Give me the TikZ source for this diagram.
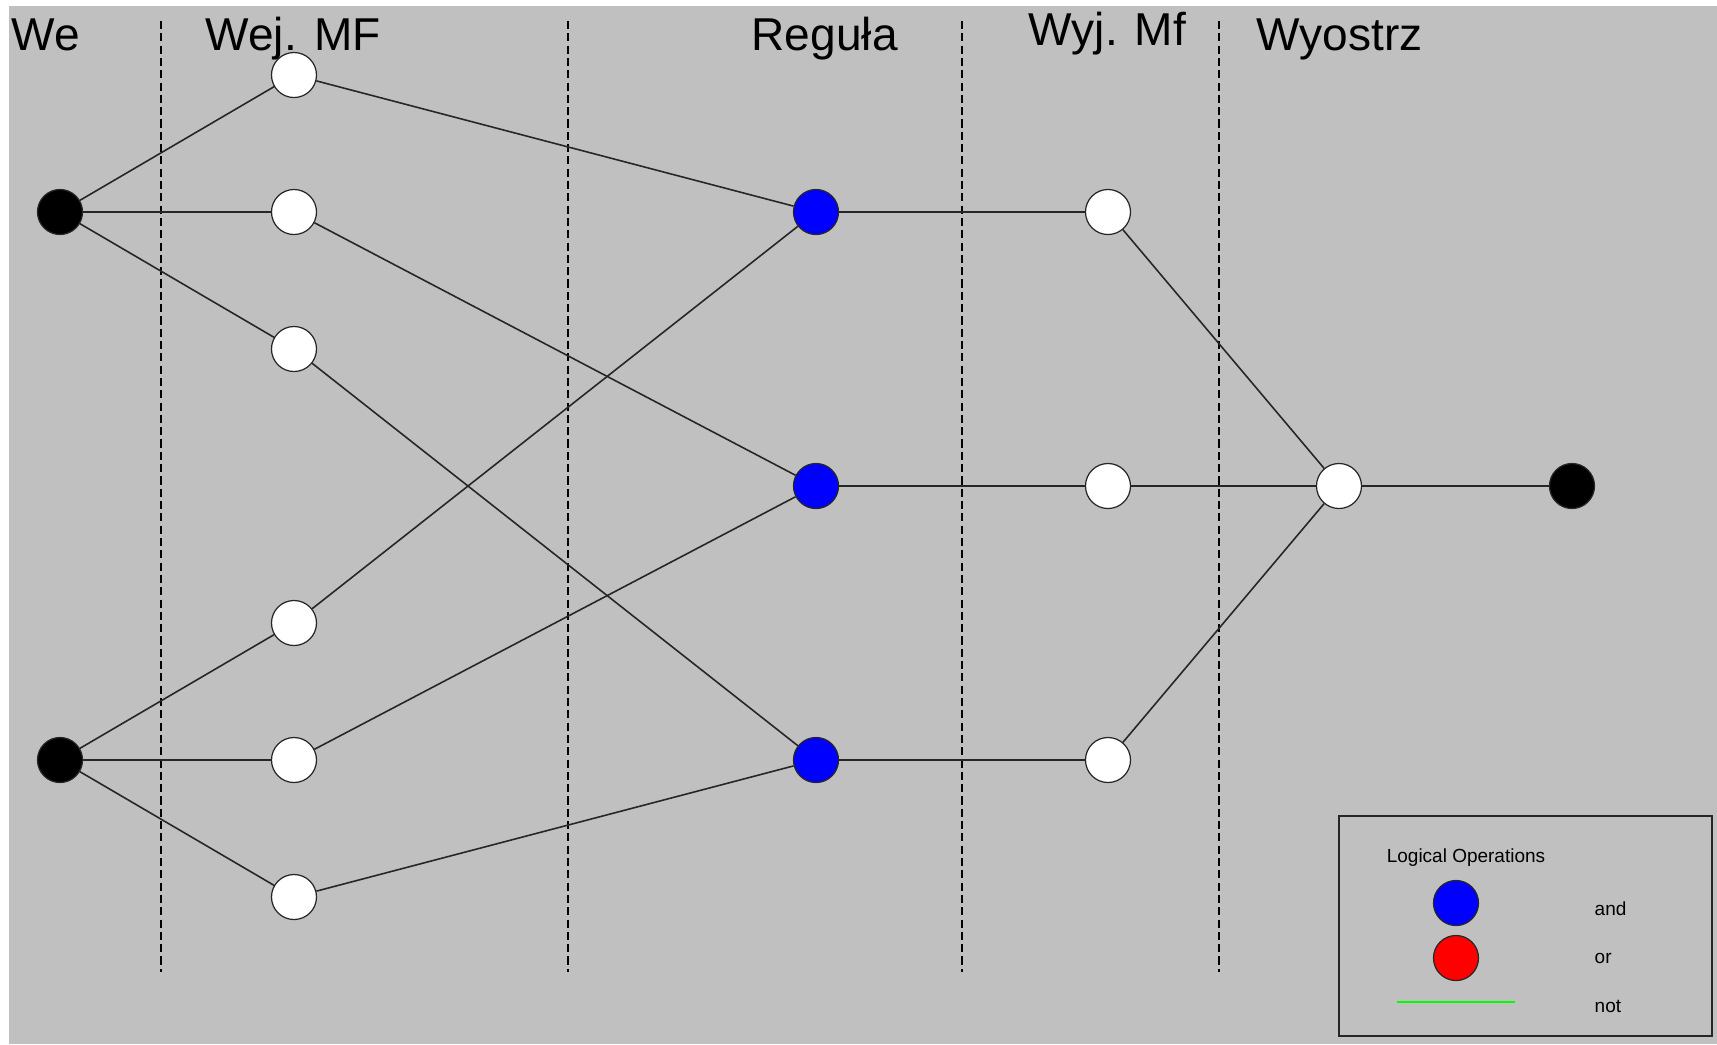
\documentclass[tikz,border=0pt]{standalone}
\usepackage{fontspec}
\setmainfont{Liberation Sans}
\definecolor{panelgray}{RGB}{192,192,192}

\begin{document}
\begin{tikzpicture}[x=0.01cm, y=-0.01cm,
    neuron/.style={circle, draw=black!85, line width=0.35pt, minimum size=0.45cm, inner sep=0pt},
    inode/.style={neuron, fill=black},
    mfnode/.style={neuron, fill=white},
    andnode/.style={neuron, fill=blue},
    ornode/.style={neuron, fill=red},
    link/.style={line width=0.45pt, black!85},
    sep/.style={line width=0.45pt, dash pattern=on 2.3pt off 1.2pt},
    head/.style={anchor=base west, inner sep=0pt, font=\fontsize{13.1}{15}\selectfont},
    legtext/.style={inner sep=0pt, font=\fontsize{5.4}{6.5}\selectfont}]
    \useasboundingbox (0,0) rectangle (1717,1044);
    \fill[white] (0,0) rectangle (1717,1044);
    \fill[panelgray] (9,6) rectangle (1717,1044);

    % layer separators
    \foreach \x in {161,568,962,1219}
        \draw[sep] (\x,21) -- (\x,972);

    % headings
    \node[head] (hWe) at (11,50) {We};
    \node[head] (hWej) at (205,50) {Wej. MF};
    \node[head] (hReg) at (751,50) {Reguła};
    \node[head] (hWyj) at (1028,45) {Wyj. Mf};
    \node[head] (hWyo) at (1256,50) {Wyostrz};

    % nodes
    \node[inode] (in1) at (60,212) {};
    \node[inode] (in2) at (60,760) {};
    \foreach \i/\y in {1/75,2/212,3/349,4/623,5/760,6/897}
        \node[mfnode] (mf\i) at (294,\y) {};
    \foreach \i/\y in {1/212,2/486,3/760}
    {
        \node[andnode] (r\i) at (816,\y) {};
        \node[mfnode] (o\i) at (1108,\y) {};
    }
    \node[mfnode] (defz) at (1339,486) {};
    \node[inode] (out) at (1572,486) {};

    % connections
    \foreach \i in {1,2,3}
        \draw[link] (in1) -- (mf\i);
    \foreach \i in {4,5,6}
        \draw[link] (in2) -- (mf\i);
    \foreach \a/\b in {1/1,2/2,3/3,4/1,5/2,6/3}
        \draw[link] (mf\a) -- (r\b);
    \foreach \i in {1,2,3}
    {
        \draw[link] (r\i) -- (o\i);
        \draw[link] (o\i) -- (defz);
    }
    \draw[link] (defz) -- (out);

    % legend
    \draw[line width=0.45pt, black!85] (1339,816) rectangle (1712,1036);
    \node[legtext] (legTitle) at (1466,858) {Logical Operations};
    \node[andnode] (legAnd) at (1456,903) {};
    \node[ornode] (legOr) at (1456,958) {};
    \coordinate (notA) at (1397,1002);
    \coordinate (notB) at (1515,1002);
    \draw[green, line width=0.35pt] (notA) -- (notB);
    \node[legtext, anchor=west] (tAnd) at (1594,909) {and};
    \node[legtext, anchor=west] (tOr) at (1594,958) {or};
    \node[legtext, anchor=west] (tNot) at (1594,1006) {not};
\end{tikzpicture}
\end{document}
